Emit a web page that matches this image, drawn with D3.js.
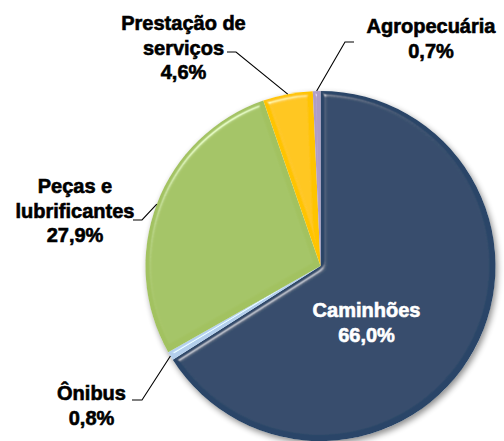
<!DOCTYPE html>
<html><head><meta charset="utf-8">
<script src="https://cdn.jsdelivr.net/npm/d3@7"></script>
<style>
html,body{margin:0;padding:0;background:#fff;}
svg{display:block;}
</style></head>
<body>
<svg id="chart" width="504" height="441"></svg>
<script>
const categories = ["Caminhões", "Ônibus", "Peças e lubrificantes", "Prestação de serviços", "Agropecuária"];
const values = [66.0, 0.8, 27.9, 4.6, 0.7];
const labelLines = [["Caminhões"], ["Ônibus"], ["Peças e", "lubrificantes"], ["Prestação de", "serviços"], ["Agropecuária"]];
const colors = ["#294567", "#B3CFEC", "#A2C261", "#FFC400", "#AE9DC6"];

// layout (label anchor points, leader elbows)
const cx = 320.5, cy = 266, R = 175;
const labelPos = [
  {x: 366.5, y: 317, color: "#fff"},
  {x: 91.5, y: 400},
  {x: 75, y: 193},
  {x: 183.5, y: 30},
  {x: 431, y: 33}
];
const leaders = [
  null,
  {ex: 132, ey: 400, bx: 142, by: 400},
  {ex: 133, ey: 220, bx: 142, by: 220},
  {ex: 227, ey: 52, bx: 236, by: 52},
  {ex: 354, ey: 42, bx: 345, by: 42}
];
const lineH = 24.5;

const svg = d3.select("#chart");
const defs = svg.append("defs");
const sh = defs.append("filter").attr("id","shadow").attr("x","-20%").attr("y","-20%").attr("width","140%").attr("height","140%");
sh.append("feGaussianBlur").attr("in","SourceAlpha").attr("stdDeviation",3).attr("result","b");
sh.append("feOffset").attr("in","b").attr("dx",2).attr("dy",3).attr("result","o");
sh.append("feComponentTransfer").attr("in","o").attr("result","o2").append("feFuncA").attr("type","linear").attr("slope",0.45);

const bev = defs.append("filter").attr("id","bevel").attr("x","-5%").attr("y","-5%").attr("width","110%").attr("height","110%");
bev.append("feGaussianBlur").attr("in","SourceAlpha").attr("stdDeviation",2.5).attr("result","blur");
const sp = bev.append("feSpecularLighting").attr("in","blur").attr("surfaceScale",4).attr("specularConstant",0.7)
  .attr("specularExponent",40).attr("lighting-color","#ffffff").attr("result","spec");
sp.append("feDistantLight").attr("azimuth",235).attr("elevation",45);
bev.append("feComposite").attr("in","spec").attr("in2","SourceAlpha").attr("operator","in").attr("result","specIn");
bev.append("feComposite").attr("in","SourceGraphic").attr("in2","specIn").attr("operator","arithmetic")
  .attr("k1",0).attr("k2",1).attr("k3",0.6).attr("k4",0);

const pie = d3.pie().sort(null).value(d => d)(values);
const arc = d3.arc().innerRadius(0).outerRadius(R);
const g = svg.append("g").attr("transform", `translate(${cx},${cy})`);

// shadow layer
g.append("circle").attr("r", R).attr("fill","#000").attr("filter","url(#shadow)");
g.append("circle").attr("r", R).attr("fill","#fff");

g.selectAll("path.slice").data(pie).enter().append("path")
  .attr("class","slice")
  .attr("d", arc)
  .attr("fill", (d,i) => colors[i])
  .attr("filter","url(#bevel)");

// leader lines
pie.forEach((d,i) => {
  const L = leaders[i];
  if (!L) return;
  const a = (d.startAngle + d.endAngle)/2;
  const px = cx + Math.sin(a)*R, py = cy - Math.cos(a)*R;
  svg.append("polyline")
    .attr("points", `${L.ex},${L.ey} ${L.bx},${L.by} ${px},${py}`)
    .attr("fill","none").attr("stroke","#000").attr("stroke-width",1.1);
});

// labels
pie.forEach((d,i) => {
  const p = labelPos[i];
  const c = p.color || "#000";
  const lines = labelLines[i].concat([d3.format(".1f")(values[i]).replace(".", ",") + "%"]);
  const t = svg.append("text").attr("text-anchor","middle")
    .attr("font-family","'Liberation Sans', Arial, sans-serif")
    .attr("font-weight","bold")
    .attr("fill", c).attr("stroke", c).attr("stroke-width", 0.6)
    .attr("font-size","20px");
  lines.forEach((ln,k) => {
    t.append("tspan").attr("x", p.x).attr("y", p.y + k*lineH).text(ln);
  });
});
</script>
</body></html>
